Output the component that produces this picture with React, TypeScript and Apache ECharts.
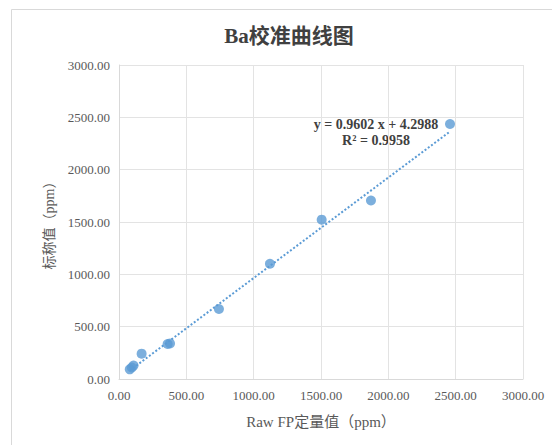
import React, { useEffect, useRef } from "react";
import * as echarts from "echarts";

const titleText = "Ba校准曲线图";
const xName = "Raw FP定量值（ppm）";
const yName = "标称值（ppm）";
const rawFP = [80, 95, 108, 168, 361, 379, 742, 1121, 1505, 1871, 2458];
const nominal = [92, 110, 128, 242, 334, 340, 669, 1101, 1522, 1705, 2436];
const trendSlope = 0.9602;
const trendIntercept = 4.2988;
const equationLines = ["y = 0.9602 x + 4.2988", "R² = 0.9958"];

export default function App() {
  const ref = useRef<HTMLDivElement>(null);
  useEffect(() => {
    const chart = echarts.init(ref.current!, null, { renderer: "svg" });
    const xMin = Math.min(...rawFP);
    const xMax = Math.max(...rawFP);
    const trend = [
      [xMin, trendSlope * xMin + trendIntercept],
      [xMax, trendSlope * xMax + trendIntercept],
    ];
    const serif = "'Liberation Serif', 'Times New Roman', 'Noto Sans CJK SC', serif";
    chart.setOption({
      animation: false,
      backgroundColor: "#fff",
      title: {
        text: titleText,
        left: 284,
        top: 20,
        textAlign: "center",
        textStyle: { fontFamily: serif, fontSize: 21, fontWeight: "bold", color: "#404040" },
      },
      grid: { left: 119, right: 29, top: 65, bottom: 66 },
      xAxis: {
        type: "value",
        min: 0,
        max: 3000,
        interval: 500,
        name: xName,
        nameLocation: "middle",
        nameGap: 35,
        nameTextStyle: { fontFamily: serif, fontSize: 15, color: "#595959" },
        axisLine: { show: true, lineStyle: { color: "#d9d9d9" } },
        axisTick: { show: false },
        splitLine: { show: true, lineStyle: { color: "#e3e3e3" } },
        axisLabel: {
          formatter: (v: number) => v.toFixed(2),
          fontFamily: serif,
          fontSize: 13,
          color: "#595959",
          margin: 10,
        },
      },
      yAxis: {
        type: "value",
        min: 0,
        max: 3000,
        interval: 500,
        name: yName,
        nameLocation: "middle",
        nameGap: 62,
        nameTextStyle: { fontFamily: serif, fontSize: 14, color: "#595959" },
        axisLine: { show: true, lineStyle: { color: "#d9d9d9" } },
        axisTick: { show: false },
        splitLine: { show: true, lineStyle: { color: "#e3e3e3" } },
        axisLabel: {
          formatter: (v: number) => v.toFixed(2),
          fontFamily: serif,
          fontSize: 13,
          color: "#595959",
          margin: 9,
        },
      },
      series: [
        {
          type: "line",
          data: trend,
          symbol: "none",
          lineStyle: { color: "#5b9bd5", width: 2, type: [2, 2] },
          z: 2,
        },
        {
          type: "scatter",
          data: rawFP.map((x, i) => [x, nominal[i]]),
          symbolSize: 10,
          itemStyle: { color: "#5b9bd5" },
          z: 3,
        },
      ],
      graphic: [
        {
          type: "rect",
          left: 9,
          top: 7,
          shape: { width: 600, height: 500 },
          style: { fill: "none", stroke: "#d9d9d9", lineWidth: 1 },
          silent: true,
        },
        {
          type: "text",
          x: 376,
          y: 124,
          style: {
            text: equationLines[0],
            fontFamily: serif,
            fontSize: 14,
            fontWeight: "bold",
            fill: "#404040",
            align: "center",
            verticalAlign: "middle",
          },
        },
        {
          type: "text",
          x: 376,
          y: 140,
          style: {
            text: equationLines[1],
            fontFamily: serif,
            fontSize: 14,
            fontWeight: "bold",
            fill: "#404040",
            align: "center",
            verticalAlign: "middle",
          },
        },
      ],
    });
    return () => chart.dispose();
  }, []);
  return <div ref={ref} style={{ width: 552, height: 445, position: "absolute", left: 0, top: 0 }} />;
}
